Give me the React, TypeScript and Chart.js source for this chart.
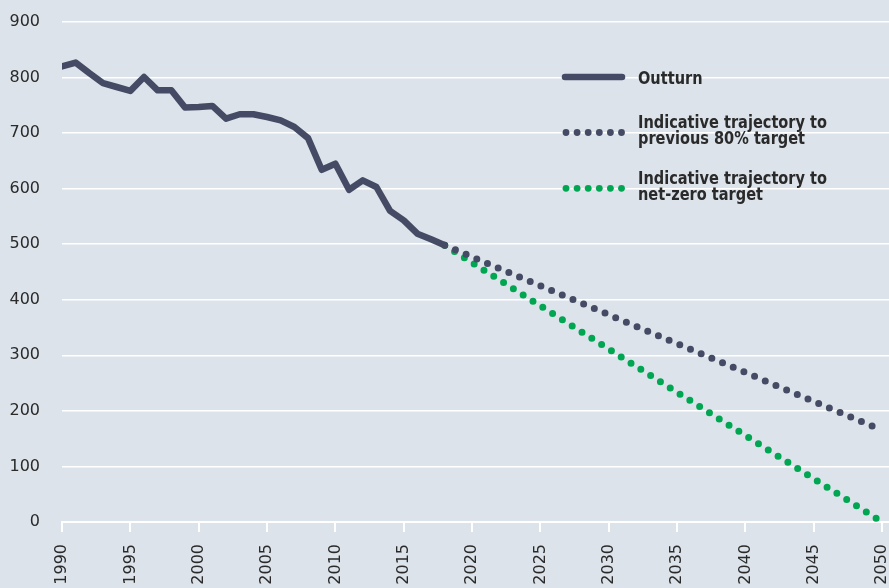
import React, { useEffect, useRef } from 'react';
import { Chart, registerables } from 'chart.js';

Chart.register(...registerables);

const outturnYears = [1990, 1991, 1992, 1993, 1994, 1995, 1996, 1997, 1998, 1999, 2000, 2001, 2002, 2003, 2004, 2005, 2006, 2007, 2008, 2009, 2010, 2011, 2012, 2013, 2014, 2015, 2016, 2017, 2018];
const outturnValues = [820, 827, 808, 790, 783, 776, 801, 777, 777, 746, 747, 749, 726, 734, 734, 729, 723, 711, 691, 634, 645, 598, 615, 603, 560, 543, 519, 509, 498];

const trajectoryYears = [2018, 2050];
const previousTargetValues = [498, 165];
const netZeroValues = [498, 0];

const xTickYears = [1990, 1995, 2000, 2005, 2010, 2015, 2020, 2025, 2030, 2035, 2040, 2045, 2050];
const yTickValues = [0, 100, 200, 300, 400, 500, 600, 700, 800, 900];

const legendOutturn = 'Outturn';
const legendPrevious = ['Indicative trajectory to', 'previous 80% target'];
const legendNetZero = ['Indicative trajectory to', 'net-zero target'];

const DARK = '#454b64';
const GREEN = '#00a651';
const BG = '#dce3ea';
const TEXT = '#2a2a2a';
const TICK_FONT = { family: '"DejaVu Sans", sans-serif', size: 16 };
const LEGEND_FONT = 'bold 18px "DejaVu Sans", sans-serif';

const legendPlugin = {
  id: 'customLegend',
  afterDraw(chart: any) {
    const ctx = chart.ctx;
    ctx.save();
    ctx.lineCap = 'round';
    ctx.strokeStyle = DARK;
    ctx.lineWidth = 6.5;
    ctx.beginPath();
    ctx.moveTo(565, 77);
    ctx.lineTo(622, 77);
    ctx.stroke();
    const dots = (y: number, color: string) => {
      ctx.fillStyle = color;
      for (let i = 0; i < 6; i++) {
        ctx.beginPath();
        ctx.arc(566 + i * 11.1, y, 3.4, 0, Math.PI * 2);
        ctx.fill();
      }
    };
    dots(132.5, DARK);
    dots(188.3, GREEN);
    ctx.fillStyle = TEXT;
    ctx.font = LEGEND_FONT;
    ctx.textAlign = 'left';
    ctx.textBaseline = 'alphabetic';
    const target = 189;
    const s = Math.min(1, target / ctx.measureText(legendPrevious[0]).width);
    const put = (t: string, x: number, y: number) => {
      ctx.save();
      ctx.translate(x, y);
      ctx.scale(s, 1);
      ctx.fillText(t, 0, 0);
      ctx.restore();
    };
    put(legendOutturn, 638, 84);
    put(legendPrevious[0], 638, 127.7);
    put(legendPrevious[1], 638, 143.5);
    put(legendNetZero[0], 638, 184);
    put(legendNetZero[1], 638, 200);
    ctx.restore();
  },
};

export default function App() {
  const canvasRef = useRef<HTMLCanvasElement | null>(null);

  useEffect(() => {
    document.body.style.margin = '0';
    const canvas = canvasRef.current;
    if (!canvas) return;
    const chart = new Chart(canvas, {
      type: 'line',
      data: {
        datasets: [
          {
            label: 'Outturn',
            data: outturnYears.map((x, i) => ({ x, y: outturnValues[i] })),
            borderColor: DARK,
            borderWidth: 6.5,
            borderJoinStyle: 'round',
            borderCapStyle: 'round',
            pointRadius: 0,
            tension: 0,
            order: 0,
          },
          {
            label: 'Indicative trajectory to previous 80% target',
            data: trajectoryYears.map((x, i) => ({ x, y: previousTargetValues[i] })),
            borderColor: DARK,
            borderWidth: 7,
            borderDash: [0, 11.6],
            borderCapStyle: 'round',
            pointRadius: 0,
            order: 1,
          },
          {
            label: 'Indicative trajectory to net-zero target',
            data: trajectoryYears.map((x, i) => ({ x, y: netZeroValues[i] })),
            borderColor: GREEN,
            borderWidth: 7,
            borderDash: [0, 11.6],
            borderCapStyle: 'round',
            pointRadius: 0,
            order: 2,
          },
        ],
      },
      options: {
        animation: false,
        responsive: false,
        devicePixelRatio: 1,
        layout: { padding: { top: 22, right: 0, left: 0, bottom: 0 } },
        plugins: {
          legend: { display: false },
          tooltip: { enabled: false },
        },
        scales: {
          x: {
            type: 'linear',
            min: 1990,
            max: 2050.5,
            afterBuildTicks: (scale: any) => {
              scale.ticks = xTickYears.map((v) => ({ value: v }));
            },
            afterFit: (scale: any) => {
              scale.height = 66;
              scale.paddingLeft = 0;
              scale.paddingRight = 0;
            },
            ticks: {
              autoSkip: false,
              minRotation: 90,
              maxRotation: 90,
              padding: 12,
              color: TEXT,
              font: TICK_FONT,
              callback: (v: any) => String(v),
            },
            grid: {
              drawOnChartArea: false,
              drawTicks: true,
              tickLength: 10,
              color: '#ffffff',
              lineWidth: 2,
            },
            border: { display: true, color: '#ffffff', width: 2 },
          },
          y: {
            type: 'linear',
            min: 0,
            max: 900,
            afterBuildTicks: (scale: any) => {
              scale.ticks = yTickValues.map((v) => ({ value: v }));
            },
            afterFit: (scale: any) => {
              scale.width = 62;
              scale.paddingTop = 0;
              scale.paddingBottom = 0;
            },
            ticks: {
              padding: 22,
              color: TEXT,
              font: TICK_FONT,
            },
            grid: {
              drawTicks: false,
              color: (c: any) => (c.tick && c.tick.value === 0 ? 'rgba(0,0,0,0)' : '#ffffff'),
              lineWidth: 1.5,
            },
            border: { display: false },
          },
        },
      },
      plugins: [legendPlugin],
    } as any);
    return () => chart.destroy();
  }, []);

  return (
    <div style={{ position: 'absolute', left: 0, top: 0, width: 889, height: 588, background: BG, overflow: 'hidden' }}>
      <canvas ref={canvasRef} width={889} height={588} style={{ display: 'block' }} />
    </div>
  );
}
